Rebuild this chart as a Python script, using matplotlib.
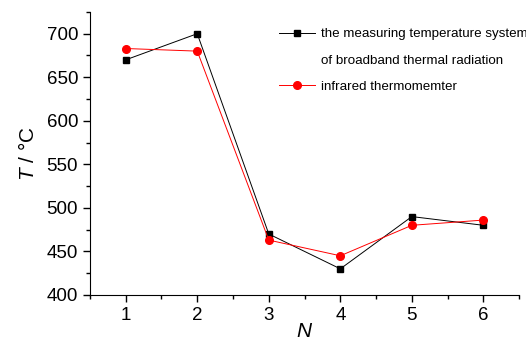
import matplotlib
matplotlib.use("Agg")
import matplotlib.pyplot as plt
from matplotlib.lines import Line2D
from matplotlib.ticker import MultipleLocator

plt.rcParams["font.family"] = ["Liberation Sans", "DejaVu Sans"]
plt.rcParams["mathtext.fontset"] = "custom"
plt.rcParams["mathtext.it"] = "Liberation Sans:italic"
plt.rcParams["mathtext.rm"] = "Liberation Sans"

N = [1, 2, 3, 4, 5, 6]
broadband = [670, 700, 470, 430, 490, 480]
infrared = [683, 680, 463, 445, 480, 486]
label_lines = ["the measuring temperature system", "of broadband thermal radiation"]
label_infrared = "infrared thermomemter"

fig = plt.figure(figsize=(5.26, 3.41), dpi=100)
ax = fig.add_axes([0.171, 0.135, 0.816, 0.83])

h1, = ax.plot(N, broadband, color="black", lw=0.7, marker="s", ms=5)
h2, = ax.plot(N, infrared, color="red", lw=0.7, marker="o", ms=5.5)

ax.set_xlim(0.5, 6.5)
ax.set_ylim(400, 725)
ax.xaxis.set_major_locator(MultipleLocator(1))
ax.xaxis.set_minor_locator(MultipleLocator(0.5))
ax.yaxis.set_major_locator(MultipleLocator(50))
ax.yaxis.set_minor_locator(MultipleLocator(25))
ax.tick_params(which="major", direction="out", length=5, width=1, labelsize=13.5)
ax.tick_params(which="minor", direction="out", length=3, width=1)
ax.spines["top"].set_visible(False)
ax.spines["right"].set_visible(False)

ax.set_xlabel("$N$", fontsize=15, labelpad=-1)
ax.set_ylabel("$T$ / °C", fontsize=15, labelpad=6)

# second line of the first label as a handle-less entry so lines are evenly spaced
blank = Line2D([], [], linestyle="none")
ax.legend([h1, blank, h2], [label_lines[0], label_lines[1], label_infrared],
          loc="upper left", bbox_to_anchor=(0.44, 0.943), frameon=False,
          fontsize=9.6, handlelength=2.7, handletextpad=0.45,
          borderpad=0, borderaxespad=0, labelspacing=1.05)

fig.savefig("out.png", dpi=100)
